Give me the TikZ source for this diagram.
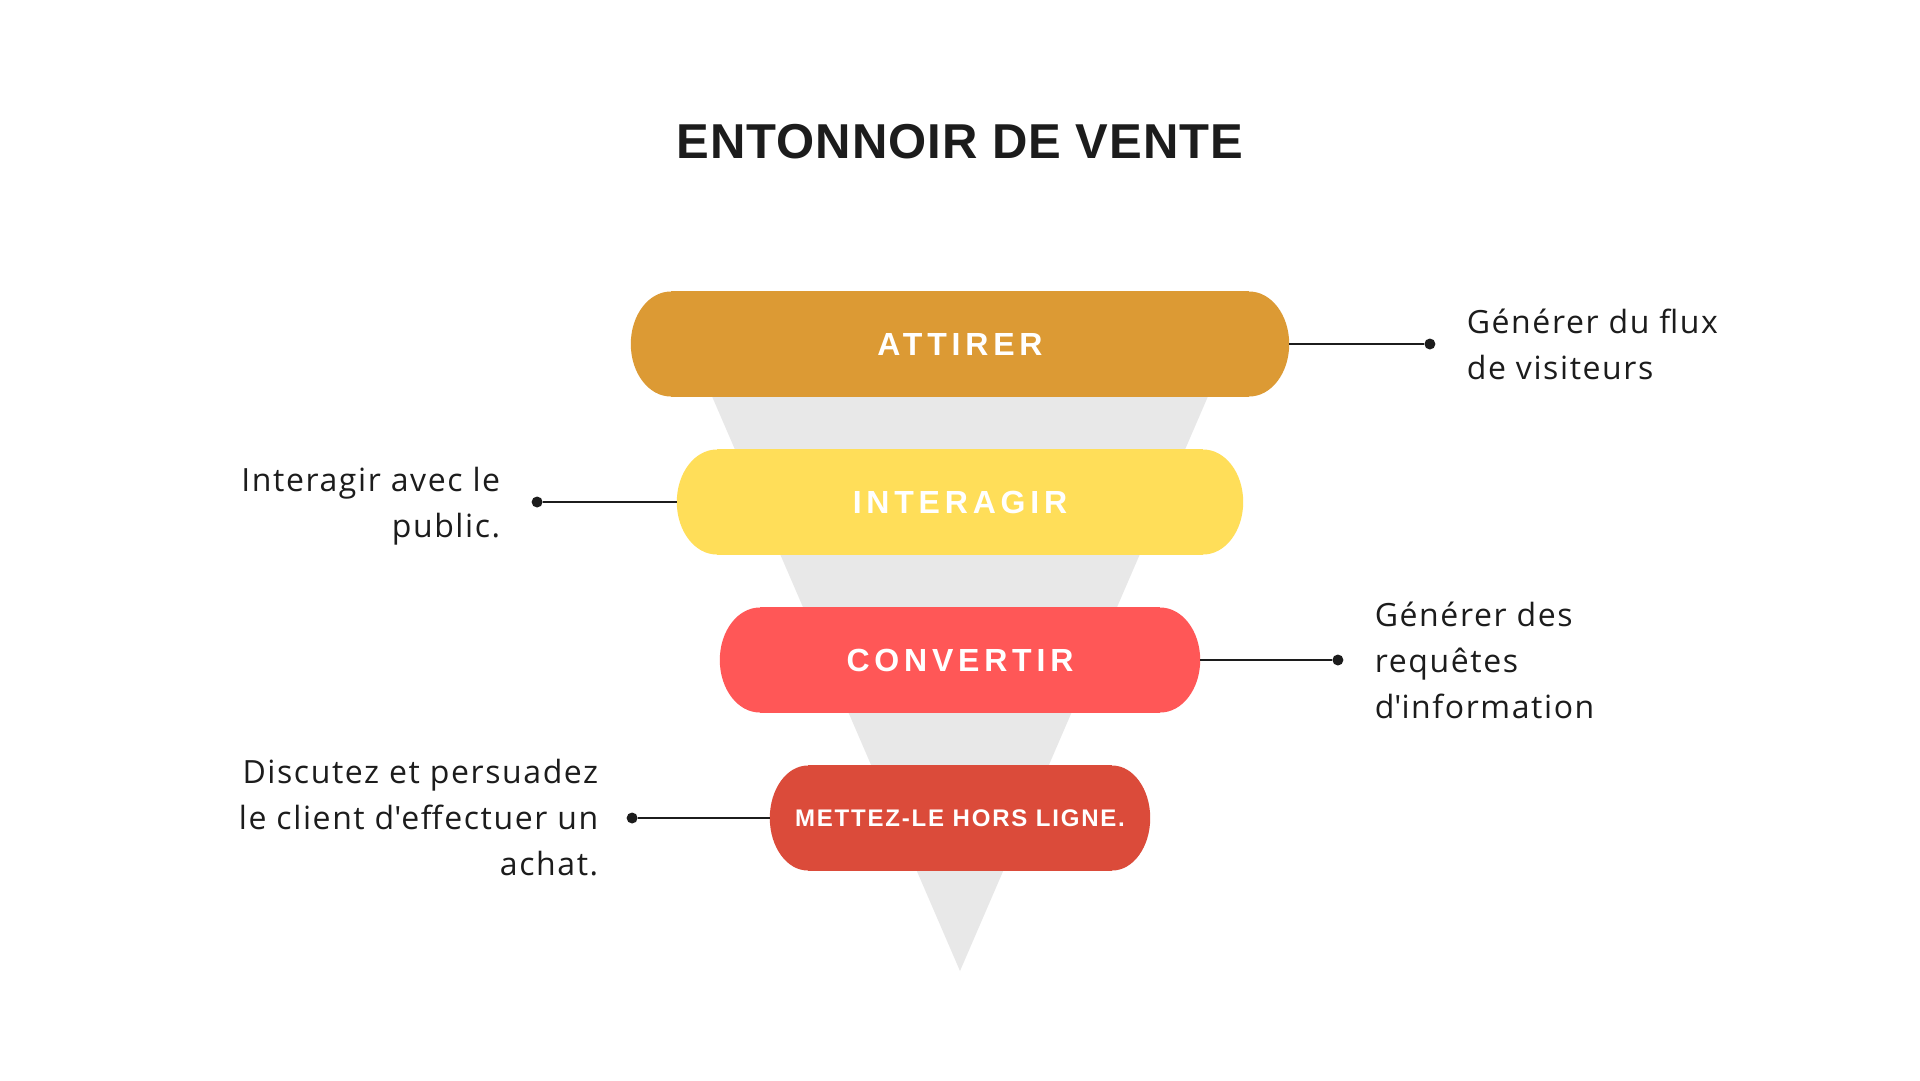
\documentclass[tikz,border=0pt]{standalone}
\usepackage{fontspec}
\setmainfont{Open Sans}
\newfontfamily\titlefont[LetterSpace=2]{Liberation Sans}
\newfontfamily\barfont[LetterSpace=15]{Liberation Sans}
\usetikzlibrary{positioning,calc}
\pgfdeclarelayer{background}
\pgfsetlayers{background,main}
\definecolor{attirercol}{HTML}{DC9A34}
\definecolor{interagircol}{HTML}{FFDE59}
\definecolor{convertircol}{HTML}{FF5757}
\definecolor{mettezcol}{HTML}{DB4B3A}
\definecolor{funnelgray}{HTML}{E8E8E8}
\definecolor{ink}{HTML}{1C1C1C}

\begin{document}
\begin{tikzpicture}[x=1pt,y=-1pt,
  bar/.style={minimum height=105pt, inner sep=0pt, text=white,
    font=\barfont\bfseries\fontsize{32}{38}\selectfont},
  dot/.style={circle, fill=ink, inner sep=0pt, minimum size=11pt},
  note/.style={text=ink, inner sep=0pt,
    font=\fontsize{32}{46}\selectfont\addfontfeature{LetterSpace=5}},
  link/.style={draw=ink, line width=2.4pt}]

 \useasboundingbox (0,0) rectangle (1920,1080);

% Title
 \node[text=ink, font=\titlefont\bfseries\fontsize{49}{58}\selectfont] (title) at (960,142) {ENTONNOIR DE VENTE};

% Bars
 \node[bar, minimum width=658pt] (attirer) at (960,344) {ATTIRER};
 \node[bar, minimum width=566pt] (interagir) at (960,502) {INTERAGIR};
 \node[bar, minimum width=480pt] (convertir) at (960,660) {CONVERTIR};
 \node[bar, minimum width=380pt,
   font=\barfont\bfseries\fontsize{24}{30}\selectfont\addfontfeature{LetterSpace=7.5}] (mettez) at (960,818) {METTEZ-LE HORS LIGNE.};

% Funnel and rounded ends
 \begin{pgfonlayer}{background}
 \fill[white] (0,0) rectangle (1920,1080);
 \fill[funnelgray] (667,292) -- (1253,292) -- (960,971) -- cycle;

 \fill[attirercol] ($(attirer.north west)+(40,0)$) rectangle ($(attirer.south east)+(-40,0)$);
 \fill[attirercol] ($(attirer.west)+(40,0)$) ellipse [x radius=40, y radius=52.5];
 \fill[attirercol] ($(attirer.east)+(-40,0)$) ellipse [x radius=40, y radius=52.5];

 \fill[interagircol] ($(interagir.north west)+(40,0)$) rectangle ($(interagir.south east)+(-40,0)$);
 \fill[interagircol] ($(interagir.west)+(40,0)$) ellipse [x radius=40, y radius=52.5];
 \fill[interagircol] ($(interagir.east)+(-40,0)$) ellipse [x radius=40, y radius=52.5];

 \fill[convertircol] ($(convertir.north west)+(40,0)$) rectangle ($(convertir.south east)+(-40,0)$);
 \fill[convertircol] ($(convertir.west)+(40,0)$) ellipse [x radius=40, y radius=52.5];
 \fill[convertircol] ($(convertir.east)+(-40,0)$) ellipse [x radius=40, y radius=52.5];

 \fill[mettezcol] ($(mettez.north west)+(38,0)$) rectangle ($(mettez.south east)+(-38,0)$);
 \fill[mettezcol] ($(mettez.west)+(38,0)$) ellipse [x radius=38, y radius=52.5];
 \fill[mettezcol] ($(mettez.east)+(-38,0)$) ellipse [x radius=38, y radius=52.5];
 \end{pgfonlayer}

% Notes
 \node[dot, right=135pt of attirer] (d1) {};
 \node[note, right=31pt of d1, align=left] (n1) {Générer du flux\\de visiteurs};
 \draw[link] (attirer.east) -- (d1);

 \node[dot, left=134pt of interagir] (d2) {};
 \node[note, left=31pt of d2, align=right, yshift=-4pt] (n2) {Interagir avec le\\public.};
 \draw[link] (interagir.west) -- (d2);

 \node[dot, right=132pt of convertir] (d3) {};
 \node[note, right=31pt of d3, align=left] (n3) {Générer des\\requêtes\\d\textquotesingle information};
 \draw[link] (convertir.east) -- (d3);

 \node[dot, left=132pt of mettez] (d4) {};
 \node[note, left=28pt of d4, align=right] (n4) {Discutez et persuadez\\le client d\textquotesingle effectuer un\\achat.};
 \draw[link] (mettez.west) -- (d4);

\end{tikzpicture}
\end{document}
